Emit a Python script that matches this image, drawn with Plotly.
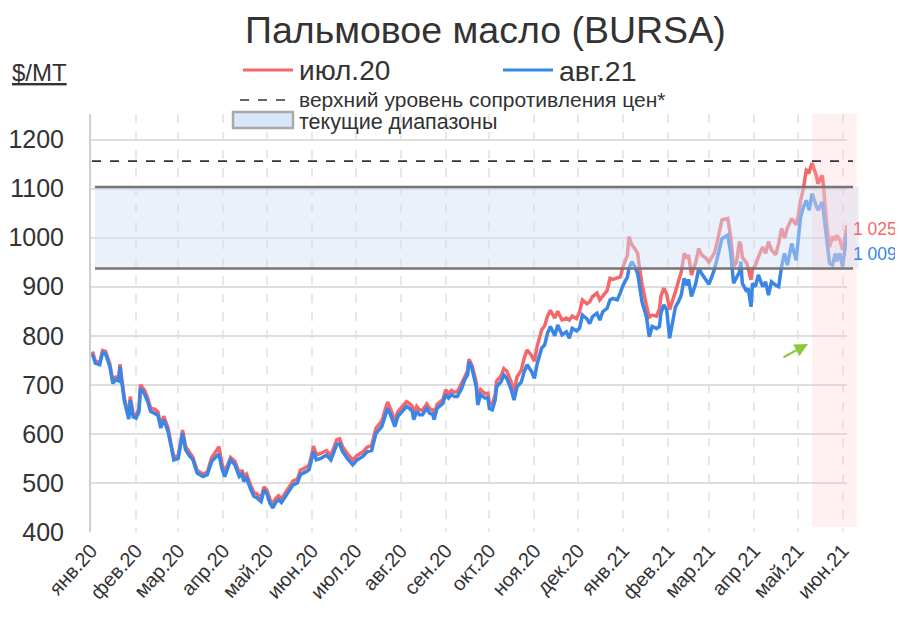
import plotly.graph_objects as go

# ---------------- data ----------------
dates = [
    "2020-01-02","2020-01-04","2020-01-07","2020-01-09","2020-01-11","2020-01-14","2020-01-16","2020-01-18","2020-01-20","2020-01-21",
    "2020-01-22","2020-01-24","2020-01-27","2020-01-28","2020-01-30","2020-02-01","2020-02-03","2020-02-04","2020-02-07","2020-02-09",
    "2020-02-11","2020-02-14","2020-02-16","2020-02-18","2020-02-20","2020-02-23","2020-02-25","2020-02-27","2020-03-01","2020-03-04",
    "2020-03-06","2020-03-09","2020-03-11","2020-03-14","2020-03-18","2020-03-21","2020-03-24","2020-03-26","2020-03-29","2020-03-31",
    "2020-04-02","2020-04-06","2020-04-09","2020-04-12","2020-04-14","2020-04-15","2020-04-17","2020-04-20","2020-04-22","2020-04-24",
    "2020-04-27","2020-04-29","2020-05-01","2020-05-03","2020-05-05","2020-05-07","2020-05-09","2020-05-11","2020-05-14","2020-05-16",
    "2020-05-19","2020-05-22","2020-05-24","2020-05-28","2020-05-30","2020-06-01","2020-06-02","2020-06-04","2020-06-07","2020-06-11",
    "2020-06-14","2020-06-18","2020-06-20","2020-06-22","2020-06-25","2020-06-29","2020-07-02","2020-07-06","2020-07-09","2020-07-12",
    "2020-07-14","2020-07-15","2020-07-19","2020-07-21","2020-07-23","2020-07-25","2020-07-28","2020-07-30","2020-08-02","2020-08-05",
    "2020-08-07","2020-08-09","2020-08-10","2020-08-12","2020-08-14","2020-08-16","2020-08-19","2020-08-21","2020-08-23","2020-08-24",
    "2020-08-26","2020-08-30","2020-09-01","2020-09-03","2020-09-05","2020-09-07","2020-09-09","2020-09-12","2020-09-14","2020-09-16",
    "2020-09-17","2020-09-19","2020-09-22","2020-09-23","2020-09-25","2020-09-28","2020-09-30","2020-10-01","2020-10-03","2020-10-05",
    "2020-10-06","2020-10-09","2020-10-11","2020-10-13","2020-10-16","2020-10-18","2020-10-20","2020-10-23","2020-10-25","2020-10-27",
    "2020-10-30","2020-11-01","2020-11-03","2020-11-06","2020-11-08","2020-11-10","2020-11-12","2020-11-15","2020-11-17","2020-11-20",
    "2020-11-23","2020-11-25","2020-11-27","2020-11-30","2020-12-02","2020-12-04","2020-12-07","2020-12-09","2020-12-11","2020-12-14",
    "2020-12-16","2020-12-18","2020-12-21","2020-12-23","2020-12-25","2020-12-28","2020-12-30","2021-01-01","2021-01-04","2021-01-05",
    "2021-01-07","2021-01-09","2021-01-11","2021-01-12","2021-01-14","2021-01-17","2021-01-19","2021-01-21","2021-01-24","2021-01-26",
    "2021-01-27","2021-01-29","2021-01-31","2021-02-02","2021-02-04","2021-02-06","2021-02-08","2021-02-10","2021-02-12","2021-02-14",
    "2021-02-15","2021-02-17","2021-02-20","2021-02-22","2021-02-24","2021-02-27","2021-03-01","2021-03-03","2021-03-05","2021-03-07",
    "2021-03-10","2021-03-14","2021-03-16","2021-03-18","2021-03-20","2021-03-22","2021-03-23","2021-03-24","2021-03-27","2021-03-28",
    "2021-03-30","2021-03-31","2021-04-02","2021-04-04","2021-04-07","2021-04-09","2021-04-11","2021-04-13","2021-04-16","2021-04-18",
    "2021-04-20","2021-04-22","2021-04-24","2021-04-27","2021-04-30","2021-05-02","2021-05-03","2021-05-05","2021-05-07","2021-05-09",
    "2021-05-11","2021-05-14","2021-05-15","2021-05-18","2021-05-19","2021-05-21","2021-05-23","2021-05-25","2021-05-27","2021-05-28",
    "2021-05-30","2021-06-01","2021-06-04",
]

aug21 = [
    763,744,741,766,763,737,703,711,708,737,
    710,666,630,669,635,632,645,693,680,666,
    646,642,638,612,629,605,574,547,550,601,
    568,554,548,520,513,517,544,550,559,530,
    513,547,537,513,518,503,510,486,473,470,
    462,486,478,459,449,460,466,460,473,483,
    496,500,517,523,527,551,564,547,550,557,
    547,578,580,564,551,537,547,554,564,566,
    588,601,615,635,652,639,615,635,646,656,
    652,646,629,646,639,639,652,642,640,629,
    652,662,680,673,680,676,676,693,710,720,
    747,734,696,659,680,673,673,652,649,669,
    696,706,720,713,690,669,696,706,727,741,
    727,713,744,775,781,805,819,800,822,802,
    808,795,815,810,815,842,835,825,839,846,
    832,849,856,873,876,873,887,903,920,937,
    951,941,927,910,869,839,798,819,815,819,
    846,863,853,795,832,859,869,883,917,903,
    915,880,907,937,927,915,905,920,937,961,
    998,1005,968,907,920,930,951,907,890,897,
    859,907,900,924,900,910,883,910,903,900,
    941,968,944,988,954,1002,1040,1062,1076,1056,
    1090,1063,1056,1073,1049,995,948,944,968,952,
    968,941,1009,
]

jul20 = [
    768,748,745,770,768,742,708,716,714,742,
    716,672,636,676,641,638,652,700,688,673,
    653,650,645,619,636,612,580,552,556,608,
    575,560,553,526,518,522,552,560,574,540,
    522,552,544,520,526,512,518,494,481,478,
    470,492,486,467,457,468,474,468,481,491,
    504,508,526,532,536,560,575,557,560,566,
    556,588,590,574,561,547,556,563,573,576,
    598,612,626,646,665,651,626,645,655,666,
    662,656,640,656,649,648,661,651,649,638,
    660,670,690,682,689,685,686,703,718,728,
    752,740,705,668,690,682,683,663,660,680,
    708,718,733,728,706,686,716,730,755,771,
    760,748,780,812,820,840,852,836,850,832,
    836,832,840,835,848,873,865,869,880,887,
    873,880,892,917,915,918,920,941,965,1002,
    985,978,968,945,905,862,838,842,840,855,
    880,897,885,853,870,890,910,930,968,958,
    965,924,950,978,965,958,950,962,970,995,
    1036,1039,1002,941,950,992,985,960,948,938,
    914,935,944,960,981,968,992,975,965,988,
    1019,999,1020,1039,1026,1053,1075,1100,1138,1134,
    1152,1125,1110,1127,1100,1029,981,1002,995,1005,
    995,975,1025,
]

month_ticks = ["2020-01-01","2020-02-01","2020-03-01","2020-04-01","2020-05-01","2020-06-01",
               "2020-07-01","2020-08-01","2020-09-01","2020-10-01","2020-11-01","2020-12-01",
               "2021-01-01","2021-02-01","2021-03-01","2021-04-01","2021-05-01","2021-06-01"]
month_labels = ["янв.20","фев.20","мар.20","апр.20","май.20","июн.20","июл.20","авг.20",
                "сен.20","окт.20","ноя.20","дек.20","янв.21","фев.21","мар.21","апр.21",
                "май.21","июн.21"]
y_ticks = [400, 500, 600, 700, 800, 900, 1000, 1100, 1200]

resistance_level = 1156
band_low = 937
band_high = 1103
last_jul20_label = "1 025"
last_aug21_label = "1 009"

title_text = "Пальмовое масло (BURSA)"
unit_text = "$/MT"
series_names = ["июл.20", "авг.21"]
legend_resist = "верхний уровень сопротивления цен*"
legend_band = "текущие диапазоны"

# ---------------- layout helpers ----------------
# The page body adds an 8px offset, so the figure is 8px smaller than the window
OFF = 8
W, H = 903 - OFF, 629 - OFF
# plot area in page pixels: x 91..847, y 114..532
PL, PR, PT, PB = 91, 847, 114, 532
PW, PH = PR - PL, PB - PT


def px(x):
    return (x - PL) / PW


def py(y):
    return (PB - y) / PH


RED = "rgb(245,104,106)"
BLUE = "rgb(58,134,230)"
TXT = "#333333"
FONT = "Liberation Sans, Arial, sans-serif"

fig = go.Figure()
fig.add_trace(go.Scatter(x=dates, y=jul20, mode="lines", name=series_names[0],
                         line=dict(color=RED, width=3.5), showlegend=False))
fig.add_trace(go.Scatter(x=dates, y=aug21, mode="lines", name=series_names[1],
                         line=dict(color=BLUE, width=3.5), showlegend=False))

shapes = []
# current range band (above the lines, semi-transparent)
shapes.append(dict(type="rect", xref="paper", yref="y", x0=px(95), x1=px(859),
                   y0=band_low, y1=band_high, fillcolor="rgba(208,224,246,0.45)",
                   line=dict(width=0), layer="above"))
# pink highlight region
shapes.append(dict(type="rect", xref="paper", yref="paper", x0=px(812), x1=px(857),
                   y0=py(527), y1=1.0, fillcolor="rgba(255,190,190,0.22)",
                   line=dict(width=0), layer="above"))
# band borders
for lvl in (band_low, band_high):
    shapes.append(dict(type="line", xref="paper", yref="y", x0=px(95), x1=px(853),
                       y0=lvl, y1=lvl, line=dict(color="rgb(120,116,116)", width=2.5),
                       layer="above"))
# resistance dashed line
shapes.append(dict(type="line", xref="paper", yref="y", x0=px(92), x1=px(853),
                   y0=resistance_level, y1=resistance_level,
                   line=dict(color="#333333", width=1.6, dash="dash"), layer="above"))

# custom legend
shapes.append(dict(type="line", xref="paper", yref="paper", x0=px(243), x1=px(293),
                   y0=py(70), y1=py(70), line=dict(color=RED, width=3)))
shapes.append(dict(type="line", xref="paper", yref="paper", x0=px(503), x1=px(553),
                   y0=py(70), y1=py(70), line=dict(color=BLUE, width=3)))
shapes.append(dict(type="line", xref="paper", yref="paper", x0=px(240), x1=px(290),
                   y0=py(100), y1=py(100), line=dict(color="#333333", width=1.4, dash="dash")))
shapes.append(dict(type="rect", xref="paper", yref="paper", x0=px(233), x1=px(293),
                   y0=py(128), y1=py(112), fillcolor="#d9e7fa",
                   line=dict(color="#a9a9a9", width=2.5)))

annotations = [
    dict(text=title_text, xref="paper", yref="paper", x=px(486), y=py(30),
         xanchor="center", yanchor="middle", showarrow=False,
         font=dict(size=37.5, color=TXT, family=FONT)),
    dict(text="<u>" + unit_text + "</u>", xref="paper", yref="paper", x=px(10), y=py(72),
         xanchor="left", yanchor="middle", showarrow=False,
         font=dict(size=24, color=TXT, family=FONT)),
    dict(text=series_names[0], xref="paper", yref="paper", x=px(297), y=py(71),
         xanchor="left", yanchor="middle", showarrow=False,
         font=dict(size=28, color=TXT, family=FONT)),
    dict(text=series_names[1], xref="paper", yref="paper", x=px(557), y=py(71),
         xanchor="left", yanchor="middle", showarrow=False,
         font=dict(size=28.5, color=TXT, family=FONT)),
    dict(text=legend_resist, xref="paper", yref="paper", x=px(297), y=py(100),
         xanchor="left", yanchor="middle", showarrow=False,
         font=dict(size=21, color=TXT, family=FONT)),
    dict(text=legend_band, xref="paper", yref="paper", x=px(297), y=py(122),
         xanchor="left", yanchor="middle", showarrow=False,
         font=dict(size=21.5, color=TXT, family=FONT)),
    dict(text=last_jul20_label, xref="paper", yref="paper", x=px(851), y=py(229),
         xanchor="left", yanchor="middle", showarrow=False,
         font=dict(size=17.5, color=RED, family=FONT)),
    dict(text=last_aug21_label, xref="paper", yref="paper", x=px(851), y=py(254),
         xanchor="left", yanchor="middle", showarrow=False,
         font=dict(size=17.5, color=BLUE, family=FONT)),
    dict(text="", xref="paper", yref="paper", x=px(808), y=py(344),
         ax=-26, ay=14, axref="pixel", ayref="pixel", showarrow=True,
         arrowhead=2, arrowsize=1.2, arrowwidth=2.2, arrowcolor="rgb(140,200,60)"),
]

fig.update_layout(
    width=W, height=H,
    margin=dict(l=PL - OFF, r=W - (PR - OFF), t=PT - OFF, b=H - (PB - OFF),
                pad=0, autoexpand=False),
    paper_bgcolor="white", plot_bgcolor="white",
    font=dict(family=FONT, color=TXT),
    shapes=shapes, annotations=annotations,
    showlegend=False,
)
fig.update_xaxes(
    type="date", range=["2020-01-01", "2021-06-04"], automargin=False,
    tickvals=month_ticks, ticktext=month_labels, tickangle=-48,
    tickfont=dict(size=20, color=TXT, family=FONT),
    showgrid=True, gridcolor="#e8e8e8", gridwidth=2, griddash="dash",
    showline=False, zeroline=False, ticks="", ticklabelstandoff=2,
)
fig.update_yaxes(
    range=[400, 1252], tickvals=y_ticks, automargin=False,
    tickfont=dict(size=25, color=TXT, family=FONT),
    showgrid=True, gridcolor="#dedede", gridwidth=2,
    showline=True, linecolor="#cfcfcf", linewidth=2,
    zeroline=False, ticks="", ticklabelstandoff=20,
)

fig.write_html("out.html")
